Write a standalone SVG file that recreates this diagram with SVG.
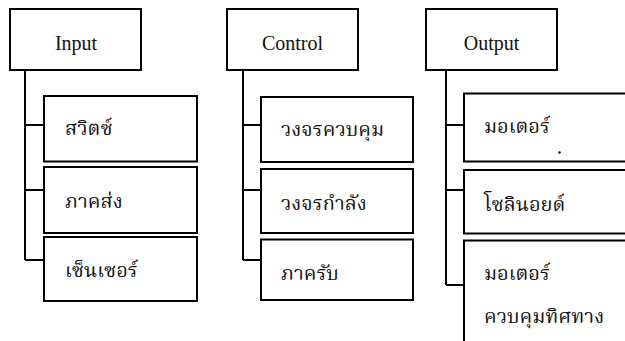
<svg xmlns="http://www.w3.org/2000/svg" width="625" height="341" viewBox="0 0 625 341">
<style>
.box{fill:#fff;stroke:#000;stroke-width:2}
.ln{fill:none;stroke:#000;stroke-width:2}
.en{font-family:"Liberation Serif","Times New Roman",serif;font-size:20px;fill:#111;text-anchor:middle}
.th{font-family:"Noto Serif Thai","Liberation Serif","Noto Sans Thai",serif;font-size:20px;fill:#111}
</style>
<rect width="625" height="341" fill="#fff"/>
<g id="connectors">
<path class="ln" d="M25,70V260M25,125H44M25,190H44M25,260H44"/>
<path class="ln" d="M243,70V260M243,125H261M243,190H261M243,260H261"/>
<path class="ln" d="M446,70V285M446,125H464M446,190H464M446,285H464"/>
</g>
<g id="input"><rect class="box" x="10" y="9" width="131" height="61"/><text class="en" x="76" y="50">Input</text></g>
<g id="control"><rect class="box" x="227" y="9" width="131" height="61"/><text class="en" x="292.5" y="50">Control</text></g>
<g id="output"><rect class="box" x="426" y="9" width="131" height="61"/><text class="en" x="491.5" y="50">Output</text></g>
<g id="switch"><rect class="box" x="44" y="96" width="153" height="65.5"/><text class="th" x="65" y="135">สวิตซ์</text></g>
<g id="transmitter"><rect class="box" x="44" y="167" width="153" height="66"/><text class="th" x="65" y="208">ภาคส่ง</text></g>
<g id="sensor"><rect class="box" x="44" y="237" width="153" height="64"/><text class="th" x="65" y="277">เซ็นเซอร์</text></g>
<g id="control-circuit"><rect class="box" x="261" y="97" width="152" height="65"/><text class="th" x="281" y="136">วงจรควบคุม</text></g>
<g id="power-circuit"><rect class="box" x="261" y="169" width="152" height="64"/><text class="th" x="281" y="210">วงจรกำลัง</text></g>
<g id="receiver"><rect class="box" x="261" y="239.5" width="152" height="60.5"/><text class="th" x="281" y="280">ภาครับ</text></g>
<g id="motor"><rect class="box" x="464" y="93.5" width="170" height="68"/><text class="th" x="484" y="133">มอเตอร์</text><circle cx="559.5" cy="152.5" r="1.2" fill="#000"/></g>
<g id="solenoid"><rect class="box" x="464" y="170" width="170" height="63.5"/><text class="th" x="484" y="211">โซลินอยด์</text></g>
<g id="direction-motor"><rect class="box" x="464" y="240.5" width="170" height="120"/><text class="th" x="484" y="280">มอเตอร์</text><text class="th" x="484" y="323">ควบคุมทิศทาง</text></g>
</svg>
